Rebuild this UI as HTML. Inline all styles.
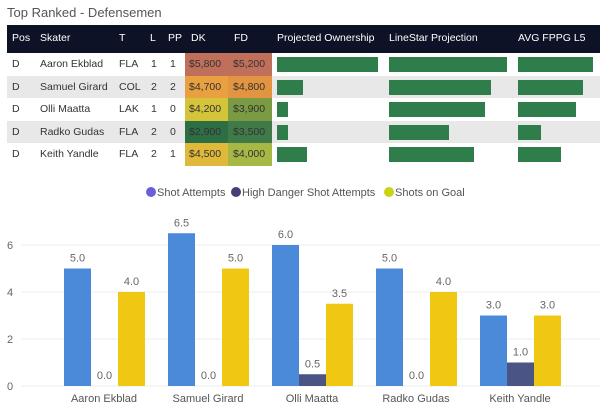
<!DOCTYPE html>
<html><head><meta charset="utf-8"><style>
body{margin:0;width:600px;height:417px;background:#fff;font-family:"Liberation Sans",sans-serif;overflow:hidden;position:relative}
.abs{position:absolute}
.t{font-size:10.5px;color:#333;position:absolute;white-space:nowrap}
.h{font-size:10.5px;color:#fff;position:absolute;white-space:nowrap}
</style></head><body>
<div class="abs" style="left:7px;top:5px;font-size:13px;color:#555">Top Ranked - Defensemen</div>
<div class="abs" style="left:7px;top:25px;width:593px;height:28px;background:#0d1226"></div>
<div id="tbl"></div>
<svg id="chart" class="abs" style="left:0;top:0" width="600" height="417"></svg>
<script>
const names=["Aaron Ekblad","Samuel Girard","Olli Maatta","Radko Gudas","Keith Yandle"];
const teams=["FLA","COL","LAK","FLA","FLA"];
const lines=["1","2","1","2","2"];
const pps=["1","2","0","0","1"];
const dk=["$5,800","$4,700","$4,200","$2,900","$4,500"];
const fd=["$5,200","$4,800","$3,900","$3,500","$4,000"];
const dkCol=["#c0705a","#e8a040","#d4c43a","#2e6e44","#e0b83a"];
const fdCol=["#c0705a","#e39440","#7a9a44","#3f7a48","#a8b844"];
const own=[101,26,11,11,30];
const lsp=[118,102,96,60,85];
const fppg=[75,65,58,23,43];
const shots=[5,6.5,6,5,3];
const hd=[0,0,0.5,0,1];
const sog=[4,5,3.5,4,3];
const yTicks=[0,2,4,6];

const T=document.getElementById('tbl');
function add(html,name){const d=document.createElement('div');d.innerHTML=html;const e=d.firstChild;T.appendChild(e);return e;}
const hdrs=[["Pos",12],["Skater",40],["T",119],["L",150],["PP",168],["DK",191],["FD",234],["Projected Ownership",277],["LineStar Projection",389],["AVG FPPG L5",518]];
hdrs.forEach(h=>add(`<div class="h" style="left:${h[1]}px;top:32px">${h[0]}</div>`,'header-'+h[0].toLowerCase().replace(/ /g,'-')));
for(let i=0;i<5;i++){
  const y=53+i*22.5;
  if(i%2==1) add(`<div class="abs" style="left:7px;top:${y}px;width:593px;height:22.5px;background:#e8e8e8"></div>`,'row-band');
  add(`<div class="abs" style="left:185px;top:${y}px;width:43px;height:22.5px;background:${dkCol[i]}"></div>`,'dk-cell');
  add(`<div class="abs" style="left:228px;top:${y}px;width:44px;height:22.5px;background:${fdCol[i]}"></div>`,'fd-cell');
  const ty=y+5;
  add(`<div class="t" style="left:12px;top:${ty}px">D</div>`,'pos-cell');
  add(`<div class="t" style="left:40px;top:${ty}px">${names[i]}</div>`,'skater-cell');
  add(`<div class="t" style="left:119px;top:${ty}px">${teams[i]}</div>`,'team-cell');
  add(`<div class="t" style="left:151px;top:${ty}px">${lines[i]}</div>`,'line-cell');
  add(`<div class="t" style="left:170px;top:${ty}px">${pps[i]}</div>`,'pp-cell');
  add(`<div class="t" style="left:189px;top:${ty}px">${dk[i]}</div>`,'dk-value');
  add(`<div class="t" style="left:233px;top:${ty}px">${fd[i]}</div>`,'fd-value');
  add(`<div class="abs" style="left:277px;top:${y+4}px;width:${own[i]}px;height:15px;background:#2e7d4a"></div>`,'ownership-bar');
  add(`<div class="abs" style="left:389px;top:${y+4}px;width:${lsp[i]}px;height:15px;background:#2e7d4a"></div>`,'linestar-bar');
  add(`<div class="abs" style="left:518px;top:${y+4}px;width:${fppg[i]}px;height:15px;background:#2e7d4a"></div>`,'fppg-bar');
}
const S=document.getElementById('chart');const NS='http://www.w3.org/2000/svg';
function el(tag,a,txt){const e=document.createElementNS(NS,tag);for(const k in a)e.setAttribute(k,a[k]);if(txt!=null)e.textContent=txt;S.appendChild(e);return e;}
const y0=386,py=23.5;const yS=v=>y0-v*py;
const xC=i=>104+i*104;
yTicks.forEach(v=>{
  const l=el('line',{x1:22,x2:600,y1:yS(v),y2:yS(v),stroke:'#eee'});
  
  const t=el('text',{x:10,y:yS(v)+4,'font-size':11,fill:'#666','text-anchor':'middle'},v);
  
});
const series=[[shots,'#4a8ad8',-40],[hd,'#4a5585',-13],[sog,'#f0c814',14]];
for(let i=0;i<5;i++){
  series.forEach(s=>{
    const v=s[0][i],x=xC(i)+s[2];
    const r=el('rect',{x:x,y:yS(v),width:27,height:v*py,fill:s[1]});
    
    const t=el('text',{x:x+13.5,y:yS(v)-7,'font-size':11,fill:'#666','text-anchor':'middle'},v.toFixed(1));
    
  });
  const t=el('text',{x:xC(i),y:402,'font-size':11,fill:'#555','text-anchor':'middle'},names[i]);
  
}
const leg=[["Shot Attempts","#6a5fd8",151],["High Danger Shot Attempts","#4a3d78",236],["Shots on Goal","#c8d414",389]];
leg.forEach(l=>{
  const c=el('circle',{cx:l[2],cy:192,r:5,fill:l[1]});
  
  const t=el('text',{x:l[2]+6,y:196,'font-size':11,fill:'#555'},l[0]);
  
});
</script>
</body></html>
